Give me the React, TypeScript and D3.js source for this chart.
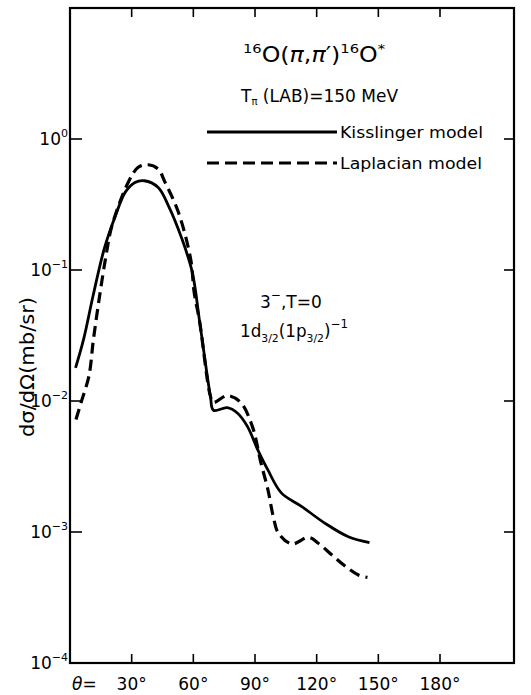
import React from "react";
import * as d3 from "d3";

// angles in degrees, cross sections in mb/sr
const kissAngle = [2.7, 6.6, 11.2, 16.6, 22.1, 26.9, 31.6, 36.1, 42.9, 47.9, 54.5, 59.5, 63.1, 68.3, 69.8, 76.5, 81.4, 86.3, 91.3, 96.2, 102.8, 112.6, 123.9, 135.4, 145.7];
const kissValue = [0.0179, 0.0295, 0.0633, 0.144, 0.259, 0.393, 0.466, 0.48, 0.427, 0.309, 0.172, 0.096, 0.04, 0.0109, 0.0085, 0.0089, 0.0081, 0.0064, 0.00426, 0.00299, 0.00199, 0.00157, 0.00117, 0.00092, 0.00083];

const lapAngle = [2.9, 5.4, 9.2, 11.4, 14.4, 17.5, 20.4, 28.4, 33.2, 38.0, 42.9, 46.2, 52.7, 58.7, 60.4, 63.1, 68.3, 69.8, 76.5, 83.0, 88.7, 92.9, 96.3, 98.9, 101.4, 107.9, 116.0, 120.8, 127.3, 133.8, 140.3, 144.7];
const lapValue = [0.00722, 0.00975, 0.0155, 0.0295, 0.0633, 0.128, 0.217, 0.469, 0.608, 0.636, 0.59, 0.469, 0.277, 0.121, 0.0676, 0.04, 0.0109, 0.00975, 0.011, 0.00975, 0.0064, 0.00337, 0.0021, 0.00131, 0.00098, 0.00081, 0.00091, 0.00082, 0.00067, 0.00055, 0.00047, 0.00045];

const xTicks = [30, 60, 90, 120, 150, 180];
const yTicks = [0, -1, -2, -3, -4];

const W = 531;
const H = 695;
const frame = { left: 70, right: 514, top: 8, bottom: 663 };
const font = "'DejaVu Sans', sans-serif";

export default function App() {
  const x = d3.scaleLinear().domain([0, 216]).range([frame.left, frame.right]);
  const y = d3.scaleLog().domain([1e-4, 10]).range([frame.bottom, frame.top]);

  const line = d3
    .line<[number, number]>()
    .x((d) => x(d[0]))
    .y((d) => y(d[1]))
    .curve(d3.curveCatmullRom.alpha(0.5));

  const kissPath = line(kissAngle.map((a, i) => [a, kissValue[i]]));
  const lapPath = line(lapAngle.map((a, i) => [a, lapValue[i]]));

  return (
    <div style={{ position: "absolute", left: 0, top: 0 }}>
      <svg width={W} height={H} style={{ display: "block", background: "#fff" }} fontFamily={font}>
        {/* frame */}
        <rect
          x={frame.left}
          y={frame.top}
          width={frame.right - frame.left}
          height={frame.bottom - frame.top}
          fill="none"
          stroke="#000"
          strokeWidth={2.2}
        />

        {/* x ticks top and bottom */}
        {xTicks.map((t) => (
          <g key={t}>
            <line x1={x(t)} x2={x(t)} y1={frame.top} y2={frame.top + 9} stroke="#000" strokeWidth={1.6} />
            <line x1={x(t)} x2={x(t)} y1={frame.bottom} y2={frame.bottom - 9} stroke="#000" strokeWidth={1.6} />
            <text x={x(t)} y={690} textAnchor="middle" fontSize={17}>
              {t}°
            </text>
          </g>
        ))}
        <text x={72} y={690} fontSize={17} fontStyle="italic">
          θ=
        </text>

        {/* y ticks */}
        {yTicks.map((e) => (
          <g key={e}>
            <line x1={frame.left} x2={frame.left + 12} y1={y(10 ** e)} y2={y(10 ** e)} stroke="#000" strokeWidth={1.6} />
            <line x1={frame.right} x2={frame.right - 10} y1={y(10 ** e)} y2={y(10 ** e)} stroke="#000" strokeWidth={1.6} />
            <text x={frame.left - 2} y={y(10 ** e) + 6} textAnchor="end" fontSize={17}>
              10
              <tspan dy={-8} fontSize={11}>
                {e === 0 ? "0" : `−${-e}`}
              </tspan>
            </text>
          </g>
        ))}

        {/* y label */}
        <text
          transform={`translate(34, 367) rotate(-90)`}
          textAnchor="middle"
          fontSize={19}
          textLength={140}
          lengthAdjust="spacingAndGlyphs"
        >
          dσ/dΩ(mb/sr)
        </text>

        {/* curves */}
        <path d={kissPath ?? ""} fill="none" stroke="#000" strokeWidth={2.8} />
        <path d={lapPath ?? ""} fill="none" stroke="#000" strokeWidth={3.2} strokeDasharray="11,6" />

        {/* title */}
        <text x={243} y={62} fontSize={21} textLength={142} lengthAdjust="spacingAndGlyphs">
          <tspan fontSize={13} dy={-9}>16</tspan>
          <tspan dy={9}>O(</tspan>
          <tspan fontStyle="italic">π</tspan>
          <tspan>,</tspan>
          <tspan fontStyle="italic">π</tspan>
          <tspan>′)</tspan>
          <tspan fontSize={13} dy={-9}>16</tspan>
          <tspan dy={9}>O</tspan>
          <tspan fontSize={13} dy={-9}>*</tspan>
        </text>
        <text x={241} y={102} fontSize={17}>
          T<tspan fontSize={10} dy={3}>π</tspan>
          <tspan dy={-3}> (LAB)=150 MeV</tspan>
        </text>

        {/* legend */}
        <line x1={207} x2={337} y1={132} y2={132} stroke="#000" strokeWidth={2.8} />
        <text x={340} y={138} fontSize={16} textLength={143} lengthAdjust="spacingAndGlyphs">
          Kisslinger  model
        </text>
        <line x1={207} x2={337} y1={163} y2={163} stroke="#000" strokeWidth={3.2} strokeDasharray="12,6" />
        <text x={340} y={169} fontSize={16} textLength={142} lengthAdjust="spacingAndGlyphs">
          Laplacian  model
        </text>

        {/* state annotation */}
        <text x={260} y={308} fontSize={17}>
          3<tspan fontSize={12} dy={-9}>−</tspan>
          <tspan dy={9}>,T=0</tspan>
        </text>
        <text x={240} y={337} fontSize={17} textLength={108} lengthAdjust="spacingAndGlyphs">
          1d<tspan fontSize={11} dy={5}>3/2</tspan>
          <tspan dy={-5}>(1p</tspan>
          <tspan fontSize={11} dy={5}>3/2</tspan>
          <tspan dy={-5}>)</tspan>
          <tspan fontSize={12} dy={-9}>−1</tspan>
        </text>
      </svg>
    </div>
  );
}
